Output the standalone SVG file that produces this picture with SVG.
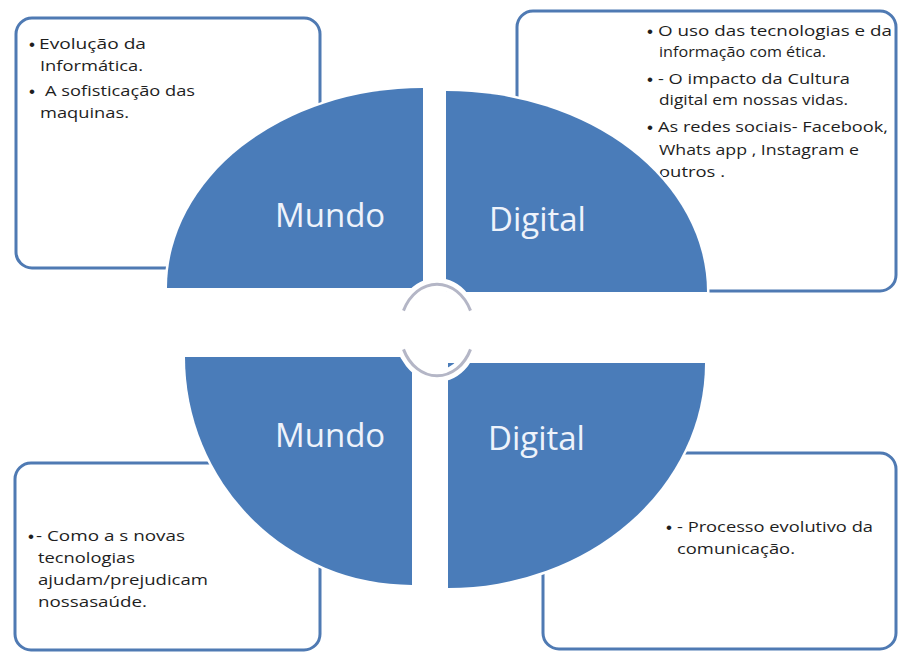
<svg xmlns="http://www.w3.org/2000/svg" width="899" height="656" viewBox="0 0 899 656">
<style>
.box{fill:#ffffff;stroke:#4f7ab3;stroke-width:3}
.quad{fill:#4a7cb9;stroke:#ffffff;stroke-width:5;paint-order:stroke fill}
.t{font-family:"Open Sans","Liberation Sans",sans-serif;font-size:15px;fill:#1e1e1e}
.b{font-family:"Liberation Sans","Open Sans",sans-serif;font-size:17px;fill:#1e1e1e}
.lbl{font-family:"Open Sans","Liberation Sans",sans-serif;font-size:33px;fill:#eef3fb}
.halo{fill:none;stroke:#ffffff;stroke-width:12}
.arc{fill:none;stroke:#b4b6c6;stroke-width:3}
</style>
<rect width="899" height="656" fill="#ffffff"/>
<g id="box-tl">
<rect class="box" x="16" y="18" width="304" height="250" rx="16"/>
<text class="b" x="29" y="50">•</text>
<text class="t" x="39" y="49" textLength="107" lengthAdjust="spacingAndGlyphs">Evolução da</text>
<text class="t" x="40" y="71" textLength="103" lengthAdjust="spacingAndGlyphs">Informática.</text>
<text class="b" x="29" y="97">•</text>
<text class="t" x="45" y="96" textLength="150" lengthAdjust="spacingAndGlyphs">A sofisticação das</text>
<text class="t" x="40" y="118" textLength="89" lengthAdjust="spacingAndGlyphs">maquinas.</text>
</g>
<g id="box-tr">
<rect class="box" x="517" y="11" width="379" height="280" rx="16"/>
<text class="b" x="647" y="37">•</text>
<text class="t" x="658" y="36" textLength="234" lengthAdjust="spacingAndGlyphs">O uso das tecnologias e da</text>
<text class="t" x="659" y="57" textLength="167" lengthAdjust="spacingAndGlyphs">informação com ética.</text>
<text class="b" x="647" y="85">•</text>
<text class="t" x="658" y="84" textLength="192" lengthAdjust="spacingAndGlyphs">- O impacto da Cultura</text>
<text class="t" x="659" y="105" textLength="189" lengthAdjust="spacingAndGlyphs">digital em nossas vidas.</text>
<text class="b" x="647" y="133">•</text>
<text class="t" x="658" y="132" textLength="230" lengthAdjust="spacingAndGlyphs">As redes sociais- Facebook,</text>
<text class="t" x="659" y="155" textLength="200" lengthAdjust="spacingAndGlyphs">Whats app , Instagram e</text>
<text class="t" x="659" y="177" textLength="66" lengthAdjust="spacingAndGlyphs">outros .</text>
</g>
<g id="box-bl">
<rect class="box" x="15" y="463" width="305" height="187" rx="16"/>
<text class="b" x="28" y="542">•</text>
<text class="t" x="36" y="541" textLength="149" lengthAdjust="spacingAndGlyphs">- Como a s novas</text>
<text class="t" x="38" y="563" textLength="97" lengthAdjust="spacingAndGlyphs">tecnologias</text>
<text class="t" x="38" y="585" textLength="170" lengthAdjust="spacingAndGlyphs">ajudam/prejudicam</text>
<text class="t" x="38" y="607" textLength="109" lengthAdjust="spacingAndGlyphs">nossasaúde.</text>
</g>
<g id="box-br">
<rect class="box" x="543" y="453" width="353" height="196" rx="16"/>
<text class="b" x="666" y="533">•</text>
<text class="t" x="677" y="532" textLength="196" lengthAdjust="spacingAndGlyphs">- Processo evolutivo da</text>
<text class="t" x="677" y="554" textLength="118" lengthAdjust="spacingAndGlyphs">comunicação.</text>
</g>
<g id="quad-tl">
<path class="quad" d="M423 288 L167 288 A256 200 0 0 1 423 88 Z"/>
<text class="lbl" x="275" y="227">Mundo</text>
</g>
<g id="quad-tr">
<path class="quad" d="M446 292 L446 91 A261 201 0 0 1 707 292 Z"/>
<text class="lbl" x="489" y="231">Digital</text>
</g>
<g id="quad-bl">
<path class="quad" d="M412 357 L412 585 A227 228 0 0 1 185 357 Z"/>
<text class="lbl" x="275" y="447">Mundo</text>
</g>
<g id="quad-br">
<path class="quad" d="M448 363 L705 363 A257 225 0 0 1 448 588 Z"/>
<text class="lbl" x="488" y="450">Digital</text>
</g>
<g id="connectors">
<ellipse class="halo" cx="437" cy="330" rx="37" ry="46"/>
<path class="arc" d="M403.5 310.6 A37 46 0 0 1 470.5 310.6"/>
<path class="arc" d="M470.5 349.4 A37 46 0 0 1 403.5 349.4"/>
</g>
</svg>
